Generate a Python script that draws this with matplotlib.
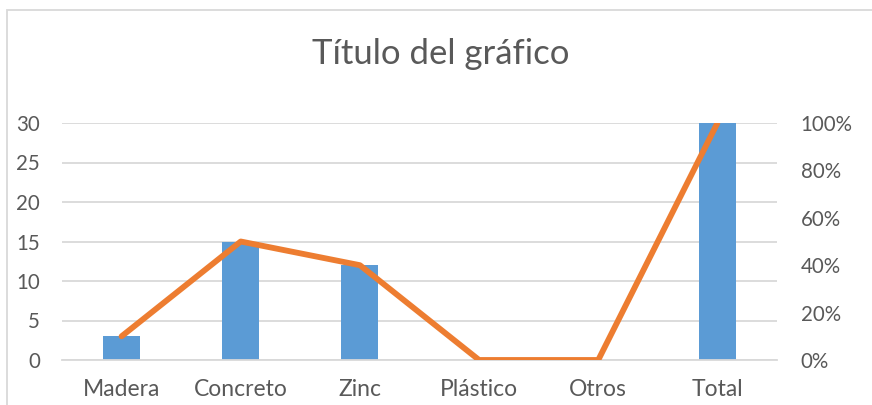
import matplotlib
matplotlib.use("Agg")
import matplotlib.pyplot as plt
from matplotlib.patches import Rectangle
from matplotlib.ticker import FuncFormatter, MultipleLocator

categories = ["Madera", "Concreto", "Zinc", "Plástico", "Otros", "Total"]
counts = [3, 15, 12, 0, 0, 30]
percent = [10, 50, 40, 0, 0, 100]

plt.rcParams['font.family'] = ['Lato', 'DejaVu Sans']
text_color = "#595959"
grid_color = "#D9D9D9"
bar_color = "#5B9BD5"
line_color = "#ED7D31"

W, H = 872, 405
fig = plt.figure(figsize=(W / 100, H / 100), dpi=100)
fig.patch.set_facecolor("white")

# chart area border (extends beyond the crop at right/bottom)
fig.patches.append(Rectangle((6.5 / W, -0.1), 1.2, 1.1 - 10.5 / H, transform=fig.transFigure,
                             fill=False, edgecolor="#D9D9D9", linewidth=1.3))

ax = fig.add_axes([62 / W, 1 - 360 / H, (777 - 62) / W, (360 - 123) / H])
x = list(range(len(categories)))
ax.bar(x, counts, width=0.31, color=bar_color, zorder=2)
ax.set_xlim(-0.5, len(categories) - 0.5)
ax.set_ylim(0, 30)
ax.yaxis.set_major_locator(MultipleLocator(5))
ax.grid(axis="y", color=grid_color, linewidth=1.3, zorder=0)
ax.set_axisbelow(True)
for s in ax.spines.values():
    s.set_visible(False)
ax.spines["bottom"].set_visible(True)
ax.spines["bottom"].set_color(grid_color)
ax.spines["bottom"].set_linewidth(1.3)
ax.set_xticks(x)
ax.set_xticklabels(categories)
ax.tick_params(axis="both", length=0, colors=text_color)
ax.tick_params(axis="y", pad=16, labelsize=14.8)
ax.tick_params(axis="x", pad=14, labelsize=16.5)

ax2 = ax.twinx()
ax2.plot(x, percent, color=line_color, linewidth=4.2, solid_capstyle="round", solid_joinstyle="round", zorder=3)
ax2.set_ylim(0, 100)
ax2.yaxis.set_major_locator(MultipleLocator(20))
ax2.yaxis.set_major_formatter(FuncFormatter(lambda v, p: f"{int(v)}%"))
for s in ax2.spines.values():
    s.set_visible(False)
ax2.tick_params(axis="y", length=0, labelsize=14.8, colors=text_color, pad=17)

fig.text(441 / W, 1 - 54 / H, "Título del gráfico", ha="center", va="center",
         fontsize=25, color=text_color)

fig.savefig("out.png", dpi=100, facecolor="white")
